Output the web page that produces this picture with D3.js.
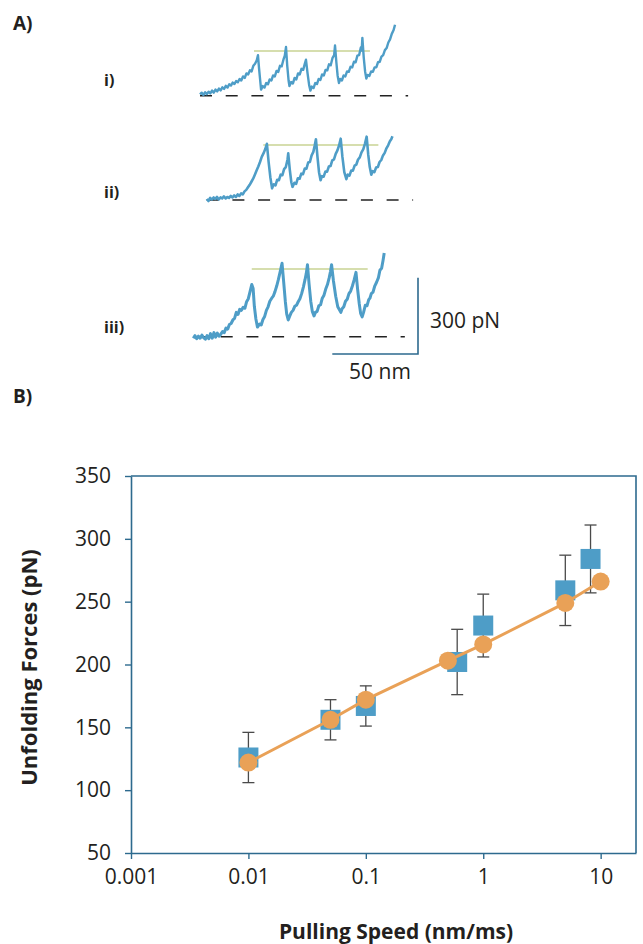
<!DOCTYPE html>
<html>
<head>
<meta charset="utf-8">
<script src="https://cdn.jsdelivr.net/npm/d3@7"></script>
<style>
  body { margin: 0; background: #fff; }
  text { font-family: "Open Sans", "Noto Sans", sans-serif; fill: #231f20; }
</style>
</head>
<body>
<div id="chart"></div>
<script>
// ---- panel A: force-extension traces, [extension nm, force pN] ----
var traceI = [[0,5],[1,12],[2,3],[3,14],[4,6],[5,16],[6,9],[7,20],[8,12],[9,24],[10,17],[11,28],[12,21],[13,33],[14,27],[15,39],[16,32],[17,45],[18,40],[19,52],[20,46],[21,58],[22,53],[23,66],[24,60],[25,76],[26,70],[27,88],[28,84],[29,100],[30,96],[31,118],[32,126],[33,140],[33.7,160],
  [34.3,110],[35,60],[35.5,24],
  [36.5,38],[37.5,32],[38.5,50],[39.5,45],[40.5,64],[41.5,60],[42.5,80],[43.5,76],[44.5,98],[45.5,94],[46.5,118],[47.5,116],[48.5,142],[49.3,158],[50,192],
  [50.7,120],[51.5,60],[52,38],
  [53,54],[54,48],[55,70],[56,64],[57,88],[58,84],[59,106],[60,102],[61,128],[61.6,142],
  [62.5,90],[63.5,40],[64.2,20],
  [65,36],[66,30],[67,50],[68,46],[69,66],[70,62],[71,84],[72,80],[73,102],[74,100],[75,124],[76,120],[77,148],[78,160],[78.5,198],
  [79.3,130],[80,80],[80.8,50],
  [81.5,66],[82.5,60],[83.5,80],[84.5,76],[85.5,96],[86.5,94],[87.5,114],[88.5,112],[89.5,134],[90.5,132],[91.5,158],[92.5,160],[93.5,190],[94,178],[94.4,228],
  [95.2,150],[96,95],[96.7,68],
  [97.5,82],[98.5,78],[99.5,96],[100.5,94],[101.5,112],[102.5,112],[103.5,132],[104.5,134],[105.5,154],[106.5,160],[107.5,180],[108.5,188],[109.5,210],[110.5,222],[111.5,244],[112.5,258],[113.4,280]];

var traceII = [[0,4],[1,-4],[2,8],[3,2],[4,10],[5,4],[6,12],[7,2],[8,10],[9,6],[10,14],[11,6],[12,12],[13,8],[14,16],[15,10],[16,18],[17,12],[18,22],[19,16],[20,26],[21,22],[22,34],[23,40],[24,50],[25,60],[26,72],[27,84],[28,100],[29,116],[30,132],[31,150],[32,170],[33,184],[34,200],[35,222],
  [36,150],[37,90],[38,46],
  [39,62],[40,58],[41,80],[42,78],[43,100],[44,98],[45,122],[46,130],[47,160],[47.4,184],
  [48.3,120],[49.2,70],[49.9,52],
  [51,68],[52,64],[53,86],[54,84],[55,104],[56,102],[57,124],[58,124],[59,148],[60,150],[61,176],[62,190],[62.8,215],[63.5,240],
  [64.4,170],[65.3,110],[66.2,78],
  [67,94],[68,92],[69,112],[70,112],[71,132],[72,134],[73,156],[74,160],[75,182],[76,196],[77,216],[77.9,242],
  [78.9,170],[80,110],[81.2,82],
  [82,100],[83,96],[84,116],[85,116],[86,136],[87,140],[88,160],[89,168],[90,188],[91,200],[92,222],[93,250],
  [93.9,180],[94.8,130],[95.7,100],
  [96.5,114],[97.5,110],[98.5,128],[99.5,130],[100.5,150],[101.5,158],[102.5,176],[103.5,186],[104.5,204],[105.5,216],[106.5,232],[107.3,240],[108,252]];

var traceIII = [[-1,-6],[0,4],[1,-8],[2,2],[3,-6],[4,6],[5,-4],[6,-10],[7,4],[8,-8],[9,12],[10,-6],[11,16],[12,-2],[13,14],[14,2],[15,10],[16,20],[17,16],[18,34],[19,30],[20,48],[21,52],[22,66],[23,72],[24,96],[25,88],[26,108],[27,104],[28,116],[29,112],[30,138],[31,150],[32,178],[33,206],[33.8,190],
  [34.5,120],[35.4,70],[36.3,38],
  [37.5,50],[38.5,46],[39.5,68],[40.5,80],[41.5,104],[42.5,118],[43.5,140],[44.6,152],[45.5,160],[46.5,178],[47.5,200],[48.5,226],[49.5,256],[50.6,290],
  [51.5,220],[52.5,140],[53.3,90],[54.2,66],
  [55,80],[56,96],[57,104],[58,120],[59,124],[60,138],[61,150],[62,170],[63,196],[64,226],[64.7,250],[65.4,284],
  [66.3,210],[67.3,140],[68.2,100],[69.2,82],
  [70,96],[71,100],[72,122],[73,126],[74,152],[75,164],[76,188],[77,206],[78,232],[78.8,258],[79.4,284],
  [80.5,220],[81.8,160],[83,118],[84.8,96],
  [85.5,110],[86.5,118],[87.5,140],[88.5,148],[89.5,170],[90.5,180],[91.5,200],[92.6,226],[93.6,254],
  [94.5,190],[95.5,130],[96.3,92],[97.2,78],
  [98,96],[99,124],[100,122],[101,146],[101.7,152],[102.5,170],[103.5,176],[104.5,200],[105.5,214],[106.6,232],[107.5,262],[108.5,270],[109.3,300],[110,330]];

var traceLabels = ["i)", "ii)", "iii)"];
var traceLevels = [176, 217, 267];          // green reference line, pN
var levelSpans = [[31.4, 98.8], [32.9, 99.8], [33, 100.4]];  // nm
var baselineEnds = [121, 120, 122];         // dashed zero-force line, nm

// ---- panel B: unfolding force vs pulling speed ----
var simSpeed = [0.01, 0.05, 0.1, 0.5, 1, 5, 10];
var simForce = [122, 156, 172, 203, 216, 249, 266];
var expSpeed = [0.01, 0.05, 0.1, 0.6, 1, 5, 8.2];
var expForce = [126, 156, 167, 202, 231, 259, 284];
var expErr   = [20, 16, 16, 26, 25, 28, 27];
var yTicks = [50, 100, 150, 200, 250, 300, 350];
var xTicks = [0.001, 0.01, 0.1, 1, 10];

var W = 643, H = 944;
var blue = "#4e9dc7", orange = "#e9a157", axisCol = "#2d6a8e";

var svg = d3.select("#chart")
  .append("svg")
    .attr("width", W)
    .attr("height", H);

// panel labels
svg.append("text").attr("x", 13).attr("y", 30).style("font-weight", "bold").style("font-size", "19px").text("A)");
svg.append("text").attr("x", 13).attr("y", 403).style("font-weight", "bold").style("font-size", "19px").text("B)");

// trace layout: pixel origin of (0 nm, 0 pN) per trace
var origins = [[200, 95.7], [206.7, 200], [195, 336.7]];
var labelY = [86, 198, 333];
var traces = [traceI, traceII, traceIII];
var widths = [2.4, 2.6, 3];

traces.forEach(function(tr, i) {
  var x = d3.scaleLinear().domain([0, 50]).range([origins[i][0], origins[i][0] + 86]);
  var y = d3.scaleLinear().domain([0, 300]).range([origins[i][1], origins[i][1] - 76]);

  svg.append("line")
    .attr("x1", x(0)).attr("x2", x(baselineEnds[i]))
    .attr("y1", y(0)).attr("y2", y(0))
    .attr("stroke", "#222").attr("stroke-width", 1.4)
    .attr("stroke-dasharray", "12,13.7");

  svg.append("line")
    .attr("x1", x(levelSpans[i][0])).attr("x2", x(levelSpans[i][1]))
    .attr("y1", y(traceLevels[i])).attr("y2", y(traceLevels[i]))
    .attr("stroke", "#c8d393").attr("stroke-width", 1.5);

  svg.append("path")
    .datum(tr)
    .attr("fill", "none")
    .attr("stroke", blue)
    .attr("stroke-width", widths[i])
    .attr("stroke-linejoin", "round")
    .attr("d", d3.line().x(function(d) { return x(d[0]); }).y(function(d) { return y(d[1]); }));

  svg.append("text")
    .attr("x", 104).attr("y", labelY[i])
    .style("font-weight", "bold").style("font-size", "16px")
    .text(traceLabels[i]);
});

// scale bar
var sbX = d3.scaleLinear().domain([0, 50]).range([332.3, 418]);
var sbY = d3.scaleLinear().domain([0, 300]).range([354, 277.7]);
svg.append("path")
  .attr("fill", "none").attr("stroke", axisCol).attr("stroke-width", 1.6)
  .attr("d", "M" + sbX(0) + "," + sbY(0) + "H" + sbX(50) + "V" + sbY(300));
svg.append("text").attr("x", 430).attr("y", 328).style("font-size", "21px").text("300 pN");
svg.append("text").attr("x", 380).attr("y", 379).attr("text-anchor", "middle").style("font-size", "21px").text("50 nm");

// ---- panel B ----
var margin = {top: 476, right: 7, bottom: 91, left: 131},
    width = W - margin.left - margin.right,
    height = H - margin.top - margin.bottom;

var g = svg.append("g").attr("transform", "translate(" + margin.left + "," + margin.top + ")");

var x = d3.scaleLog().domain([0.001, 20]).range([0, width]);
var y = d3.scaleLinear().domain([50, 350]).range([height, 0]);

var xAxis = g.append("g")
  .attr("transform", "translate(0," + height + ")")
  .call(d3.axisBottom(x).tickValues(xTicks).tickFormat(d3.format("~g")).tickSize(6).tickSizeOuter(0).tickPadding(10));
var yAxis = g.append("g")
  .call(d3.axisLeft(y).tickValues(yTicks).tickSize(6).tickSizeOuter(0).tickPadding(14));

[xAxis, yAxis].forEach(function(a) {
  a.select(".domain").attr("stroke", axisCol).attr("stroke-width", 1.6);
  a.selectAll(".tick line").attr("stroke", axisCol).attr("stroke-width", 1.4);
  a.selectAll(".tick text").style("font-family", "'Open Sans', sans-serif").style("font-size", "21px").attr("fill", "#231f20");
});

// top and right borders
g.append("path")
  .attr("fill", "none").attr("stroke", axisCol).attr("stroke-width", 1.6)
  .attr("d", "M0,0H" + width + "V" + height);

// error bars
var expData = expSpeed.map(function(s, i) { return {s: s, f: expForce[i], e: expErr[i]}; });
var eb = g.selectAll(".eb").data(expData).enter().append("g").attr("class", "eb");
eb.append("line")
  .attr("x1", function(d) { return x(d.s); }).attr("x2", function(d) { return x(d.s); })
  .attr("y1", function(d) { return y(d.f + d.e); }).attr("y2", function(d) { return y(d.f - d.e); })
  .attr("stroke", "#4a4a4a").attr("stroke-width", 1.3);
[1, -1].forEach(function(sgn) {
  eb.append("line")
    .attr("x1", function(d) { return x(d.s) - 6; }).attr("x2", function(d) { return x(d.s) + 6; })
    .attr("y1", function(d) { return y(d.f + sgn * d.e); }).attr("y2", function(d) { return y(d.f + sgn * d.e); })
    .attr("stroke", "#4a4a4a").attr("stroke-width", 1.3);
});

// squares
g.selectAll(".sq").data(expData).enter().append("rect")
  .attr("class", "sq")
  .attr("x", function(d) { return x(d.s) - 10; })
  .attr("y", function(d) { return y(d.f) - 10; })
  .attr("width", 20).attr("height", 20)
  .attr("fill", blue);

// simulation line + circles
var simData = simSpeed.map(function(s, i) { return {s: s, f: simForce[i]}; });
g.append("path")
  .datum(simData)
  .attr("fill", "none").attr("stroke", orange).attr("stroke-width", 3)
  .attr("d", d3.line().x(function(d) { return x(d.s); }).y(function(d) { return y(d.f); }));
g.selectAll(".ci").data(simData).enter().append("circle")
  .attr("cx", function(d) { return x(d.s); })
  .attr("cy", function(d) { return y(d.f); })
  .attr("r", 9)
  .attr("fill", orange);

// axis titles
svg.append("text")
  .attr("transform", "translate(37," + (margin.top + height / 2 + 3) + ") rotate(-90)")
  .attr("text-anchor", "middle")
  .style("font-weight", "bold").style("font-size", "22px")
  .text("Unfolding Forces (pN)");
svg.append("text")
  .attr("x", 396).attr("y", 939)
  .attr("text-anchor", "middle")
  .style("font-weight", "bold").style("font-size", "21px")
  .text("Pulling Speed (nm/ms)");
</script>
</body>
</html>
